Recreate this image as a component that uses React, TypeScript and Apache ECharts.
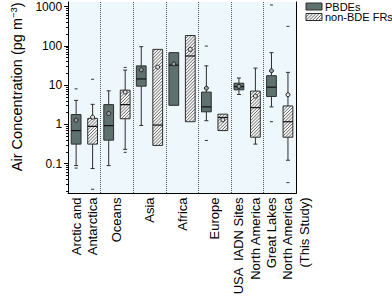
import React, { useEffect, useRef } from 'react';
import * as echarts from 'echarts';

const categories = [
  'Arctic and\nAntarctica',
  'Oceans',
  'Asia',
  'Africa',
  'Europe',
  'USA  IADN Sites\nNorth America',
  '\nGreat Lakes\nNorth America\n(This Study)',
];
const yTickValues = [0.1, 1, 10, 100, 1000];

// PBDEs
const pbdeLow = [0.089, 0.089, 0.94, 3.06, 1.24, 5.78, 2.79];
const pbdeQ1 = [0.314, 0.396, 9.41, 3.06, 2.09, 7.6, 5.15];
const pbdeMedian = [0.695, 0.93, 14.4, 32.3, 2.79, 9.19, 8.88];
const pbdeQ3 = [1.78, 3.19, 31.0, 67.4, 6.65, 11.2, 17.4];
const pbdeHigh = [4.09, 7.17, 95.5, 67.4, 31.0, 15.2, 67.4];
const pbdeMean = [1.28, 1.89, 24.6, 34.8, 8.38, 9.3, 23.2];
const pbdeOutliers = [[0, 8.05], [0, 0.077], [4, 98.9], [4, 0.389], [6, 1107], [6, 1.17]];

// non-BDE FRs
const frLow = [0.075, 0.231, 0.291, 1.17, 0.695, 0.314, 0.122];
const frQ1 = [0.314, 1.39, 0.291, 1.17, 0.695, 0.471, 0.471];
const frMedian = [0.89, 3.19, 0.96, 55.4, 1.5, 2.68, 1.17];
const frQ3 = [1.42, 7.46, 81.7, 184, 1.82, 7.05, 2.95];
const frHigh = [3.24, 24.2, 81.7, 184, 1.82, 27.2, 21.2];
const frMean = [1.53, 6.65, 28.8, 81.7, 1.31, 5.27, 5.69];
const frOutliers = [[0, 14.1], [0, 0.0222], [1, 28.3], [1, 0.194], [6, 315], [6, 0.0328]];

const FONT = '"Liberation Sans", Arial, Helvetica, sans-serif';
const DARK = '#5f716e';
const HATCH_BG = '#f3f5f5';
const HATCH_LINE = '#6a6a6a';
const EDGE = '#2e2e2e';
const SIDE_OFFSET = 0.253;
const BOX_HALF = 0.15;

function hatchLines(x0: number, y0: number, x1: number, y1: number, step: number) {
  const out: any[] = [];
  const start = Math.ceil((x0 + y0) / step) * step;
  for (let c = start; c <= x1 + y1; c += step) {
    const ax = Math.max(x0, c - y1);
    const bx = Math.min(x1, c - y0);
    if (bx - ax > 0.2) {
      out.push({
        type: 'line',
        shape: { x1: ax, y1: c - ax, x2: bx, y2: c - bx },
        style: { stroke: HATCH_LINE, lineWidth: 1 },
        silent: true,
      });
    }
  }
  return out;
}

function boxRenderer(side: number, hatched: boolean) {
  return (params: any, api: any) => {
    const cs = params.coordSys;
    const band = cs.width / categories.length;
    const cat = api.value(0);
    const low = api.value(1);
    const q1 = api.value(2);
    const med = api.value(3);
    const q3 = api.value(4);
    const high = api.value(5);
    const mean = api.value(6);
    const cx = api.coord([cat, med])[0] + side * band * SIDE_OFFSET;
    const y = (v: number) => api.coord([cat, v])[1];
    const half = band * BOX_HALF;
    const yLow = y(low), yQ1 = y(q1), yMed = y(med), yQ3 = y(q3), yHigh = y(high), yMean = y(mean);
    const line = (x1: number, y1: number, x2: number, y2: number, w = 1, c = EDGE) => ({
      type: 'line',
      shape: { x1, y1, x2, y2 },
      style: { stroke: c, lineWidth: w },
    });
    const children: any[] = [];
    if (yLow - yQ1 > 0.5) {
      children.push(line(cx, yQ1, cx, yLow));
      children.push(line(cx - 2, yLow, cx + 2, yLow));
    }
    if (yQ3 - yHigh > 0.5) {
      children.push(line(cx, yHigh, cx, yQ3));
      children.push(line(cx - 2, yHigh, cx + 2, yHigh));
    }
    children.push({
      type: 'rect',
      shape: { x: cx - half, y: yQ3, width: half * 2, height: yQ1 - yQ3 },
      style: { fill: hatched ? HATCH_BG : DARK, stroke: 'none' },
    });
    if (hatched) {
      children.push(...hatchLines(cx - half, yQ3, cx + half, yQ1, 3.2));
    }
    children.push({
      type: 'rect',
      shape: { x: cx - half, y: yQ3, width: half * 2, height: yQ1 - yQ3 },
      style: { fill: 'none', stroke: EDGE, lineWidth: 1 },
    });
    children.push(line(cx - half, yMed, cx + half, yMed, 1.2, '#111'));
    children.push({
      type: 'circle',
      shape: { cx, cy: yMean, r: 2 },
      style: { fill: hatched ? '#e6e6e6' : '#9aa5a3', stroke: '#1a1a1a', lineWidth: 1 },
    });
    return { type: 'group', children };
  };
}

function outlierRenderer(side: number) {
  return (params: any, api: any) => {
    const cs = params.coordSys;
    const band = cs.width / categories.length;
    const cat = api.value(0);
    const p = api.coord([cat, api.value(1)]);
    const cx = p[0] + side * band * SIDE_OFFSET;
    return {
      type: 'line',
      shape: { x1: cx - 1.5, y1: p[1], x2: cx + 1.5, y2: p[1] },
      style: { stroke: '#333', lineWidth: 1 },
    };
  };
}

function boxData(low: number[], q1: number[], med: number[], q3: number[], high: number[], mean: number[]) {
  return categories.map((_, i) => [i, low[i], q1[i], med[i], q3[i], high[i], mean[i]]);
}

function legendGraphic() {
  const x = 306, w = 16, h = 7;
  const y1 = 3, y2 = 13.5;
  return [
    {
      type: 'rect',
      shape: { x, y: y1, width: w, height: h },
      style: { fill: DARK, stroke: EDGE, lineWidth: 1 },
    },
    {
      type: 'text',
      style: { text: 'PBDEs', x: 325, y: y1 + h / 2, verticalAlign: 'middle', fill: '#000', font: '11px ' + FONT },
    },
    {
      type: 'rect',
      shape: { x, y: y2, width: w, height: h },
      style: { fill: HATCH_BG, stroke: 'none' },
    },
    ...hatchLines(x, y2, x + w, y2 + h, 3.2),
    {
      type: 'rect',
      shape: { x, y: y2, width: w, height: h },
      style: { fill: 'none', stroke: EDGE, lineWidth: 1 },
    },
    {
      type: 'text',
      style: { text: 'non-BDE FRs', x: 325, y: y2 + h / 2, verticalAlign: 'middle', fill: '#000', font: '11px ' + FONT },
    },
  ];
}

export default function App() {
  const ref = useRef<HTMLDivElement>(null);
  useEffect(() => {
    if (!ref.current) return;
    const chart = echarts.init(ref.current, null, { renderer: 'svg' });
    chart.setOption({
      animation: false,
      backgroundColor: '#fff',
      textStyle: { fontFamily: FONT },
      grid: {
        left: 55,
        top: 2,
        width: 241,
        height: 194,
        show: true,
        backgroundColor: '#eef7fc',
        borderWidth: 0,
      },
      xAxis: {
        type: 'category',
        data: categories,
        boundaryGap: true,
        axisLine: { lineStyle: { color: '#000', width: 1 } },
        axisTick: { show: false },
        splitLine: { show: true, lineStyle: { type: 'dotted', color: '#555', width: 1 } },
        axisLabel: {
          rotate: 90,
          interval: 0,
          fontSize: 13,
          lineHeight: 16.5,
          margin: 4,
          color: '#000',
          fontFamily: FONT,
        },
      },
      yAxis: [
        {
          type: 'log',
          logBase: 10,
          min: 0.01734,
          max: 1316,
          axisLine: { show: true, lineStyle: { color: '#000', width: 1 } },
          axisTick: { show: true, length: 4, customValues: yTickValues, lineStyle: { color: '#000' } },
          minorTick: { show: true, splitNumber: 9, length: 2, lineStyle: { color: '#000' } },
          splitLine: { show: false },
          axisLabel: {
            customValues: yTickValues,
            fontSize: 12,
            margin: 6,
            color: '#000',
            fontFamily: FONT,
            formatter: (v: number) => String(v),
          },
          name: '{a|Air Concentration (pg m}{s|−3}{a|)}',
          nameLocation: 'middle',
          nameGap: 41,
          nameTextStyle: {
            color: '#000',
            fontSize: 14.5,
            fontFamily: FONT,
            padding: [0, 0, 0, 22],
            rich: {
              a: { fontSize: 14.5, fontFamily: FONT, color: '#000', lineHeight: 18 },
              s: { fontSize: 9.5, fontFamily: FONT, color: '#000', verticalAlign: 'top', lineHeight: 9 },
            },
          },
        },
        {
          type: 'value',
          position: 'right',
          min: 0,
          max: 1,
          axisLine: { show: true, onZero: false, lineStyle: { color: '#000', width: 1 } },
          axisTick: { show: false },
          axisLabel: { show: false },
          splitLine: { show: false },
        },
      ],
      series: [
        {
          name: 'PBDEs',
          type: 'custom',
          yAxisIndex: 0,
          renderItem: boxRenderer(-1, false),
          encode: { x: 0, y: [1, 2, 3, 4, 5, 6] },
          data: boxData(pbdeLow, pbdeQ1, pbdeMedian, pbdeQ3, pbdeHigh, pbdeMean),
          z: 3,
        },
        {
          name: 'non-BDE FRs',
          type: 'custom',
          yAxisIndex: 0,
          renderItem: boxRenderer(1, true),
          encode: { x: 0, y: [1, 2, 3, 4, 5, 6] },
          data: boxData(frLow, frQ1, frMedian, frQ3, frHigh, frMean),
          z: 3,
        },
        {
          name: 'PBDEs outliers',
          type: 'custom',
          yAxisIndex: 0,
          renderItem: outlierRenderer(-1),
          encode: { x: 0, y: 1 },
          data: pbdeOutliers,
          z: 3,
        },
        {
          name: 'non-BDE FRs outliers',
          type: 'custom',
          yAxisIndex: 0,
          renderItem: outlierRenderer(1),
          encode: { x: 0, y: 1 },
          data: frOutliers,
          z: 3,
        },
      ],
      graphic: legendGraphic(),
    });
    return () => chart.dispose();
  }, []);
  return <div ref={ref} style={{ position: 'fixed', left: 0, top: 0, width: 392, height: 298 }} />;
}
